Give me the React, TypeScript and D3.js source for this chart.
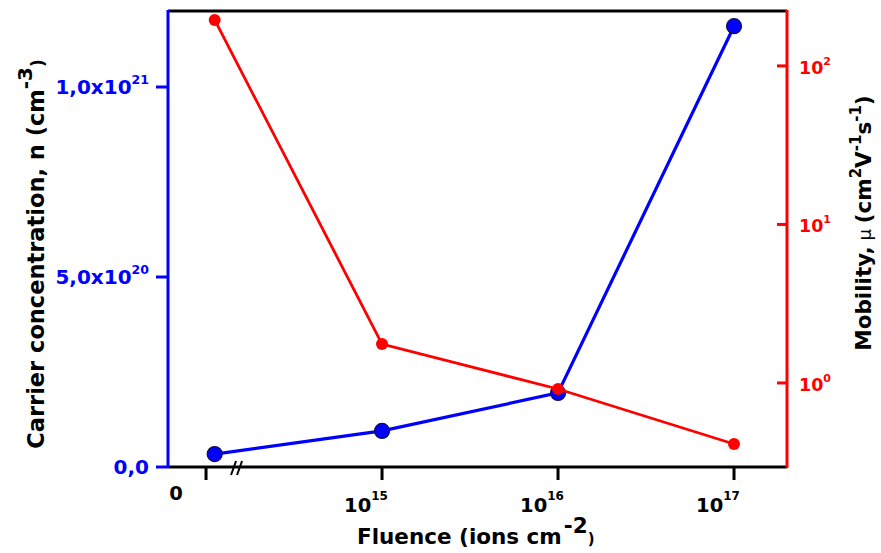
import React from 'react';
import * as d3 from 'd3';

// Data (first entry = unimplanted sample, shown at "0" left of the axis break)
const fluence = [1.12e14, 1e15, 1e16, 1e17];
const carrierConc = [3.4e19, 9.5e19, 1.95e20, 1.16e21];
const mobility = [195, 1.76, 0.916, 0.412];

const leftTicks = [0, 5e20, 1e21];
const leftTickBase = ['0,0', '5,0x10', '1,0x10'];
const leftTickExp = ['', '20', '21'];

const bottomTicks = [1e14, 1e15, 1e16, 1e17];
const bottomTickExp = ['', '15', '16', '17'];

const rightTicks = [1, 10, 100];
const rightTickExp = ['0', '1', '2'];

const BLUE = '#0000FF';
const RED = '#FF0000';
const FONT = '"DejaVu Sans", Verdana, sans-serif';

export default function App() {
  const W = 881, H = 553;
  const L = 168, R = 787, T = 11, B = 467;

  const x = d3.scaleLog().domain([6.08e13, 2.0e17]).range([L, R]);
  const yL = d3.scaleLinear().domain([0, 1.2e21]).range([B, T]);
  const yR = d3.scaleLog().domain([0.295, 222]).range([B, T]);

  const blueLine = d3.line<number>().x((_, i) => x(fluence[i])).y((d) => yL(d))(carrierConc) || '';
  const redLine = d3.line<number>().x((_, i) => x(fluence[i])).y((d) => yR(d))(mobility) || '';

  const breakX = x(1e14) + 32;

  return (
    <svg width={W} height={H} style={{ position: 'absolute', left: 0, top: 0, background: '#fff' }} fontFamily={FONT}>
      <rect x={0} y={0} width={W} height={H} fill="#fff" />

      {/* frame */}
      <line x1={L} x2={R} y1={T} y2={T} stroke="#000" strokeWidth={3} />
      <line x1={L} x2={R} y1={B} y2={B} stroke="#000" strokeWidth={3} />
      <line x1={L} x2={L} y1={T - 1} y2={B + 1} stroke={BLUE} strokeWidth={3} />
      <line x1={R} x2={R} y1={T - 1} y2={B + 1} stroke={RED} strokeWidth={3} />

      {/* left ticks */}
      {leftTicks.map((t, i) => (
        <g key={'lt' + i}>
          <line x1={L - 12} x2={L} y1={yL(t)} y2={yL(t)} stroke={BLUE} strokeWidth={3} />
          <text x={L - 19} y={yL(t) + 7} textAnchor="end" fill={BLUE} fontWeight="bold" fontSize={20}>
            {leftTickBase[i]}
            {leftTickExp[i] && (
              <tspan dy={-10} fontSize={12.5}>{leftTickExp[i]}</tspan>
            )}
          </text>
        </g>
      ))}

      {/* right ticks */}
      {rightTicks.map((t, i) => (
        <g key={'rt' + i}>
          <line x1={R - 10} x2={R} y1={yR(t)} y2={yR(t)} stroke={RED} strokeWidth={3} />
          <text x={R + 12} y={yR(t) + 8} textAnchor="start" fill={RED} fontWeight="bold" fontSize={17.5}>
            10
            <tspan dy={-9} fontSize={11}>{rightTickExp[i]}</tspan>
          </text>
        </g>
      ))}

      {/* bottom ticks */}
      {bottomTicks.map((t, i) => (
        <g key={'bt' + i}>
          <line x1={x(t)} x2={x(t)} y1={B} y2={B + 13} stroke="#000" strokeWidth={3} />
          {bottomTickExp[i] && (
            <text x={x(t) - 16} y={B + 45} textAnchor="middle" fill="#000" fontWeight="bold" fontSize={19.5}>
              10
              <tspan dy={-12} fontSize={12}>{bottomTickExp[i]}</tspan>
            </text>
          )}
        </g>
      ))}
      <text x={L + 8} y={B + 33} textAnchor="middle" fill="#000" fontWeight="bold" fontSize={19.5}>0</text>

      {/* axis break */}
      <line x1={breakX - 7} x2={breakX - 2} y1={B + 8} y2={B - 6} stroke="#000" strokeWidth={2} />
      <line x1={breakX - 1} x2={breakX + 4} y1={B + 8} y2={B - 6} stroke="#000" strokeWidth={2} />

      {/* series */}
      <path d={blueLine} fill="none" stroke={BLUE} strokeWidth={3.2} />
      {carrierConc.map((d, i) => (
        <circle key={'bc' + i} cx={x(fluence[i])} cy={yL(d)} r={7.5} fill={BLUE} stroke="#10104a" strokeWidth={1.2} />
      ))}
      <path d={redLine} fill="none" stroke={RED} strokeWidth={2.8} />
      {mobility.map((d, i) => (
        <circle key={'rc' + i} cx={x(fluence[i])} cy={yR(d)} r={6} fill={RED} />
      ))}

      {/* axis titles */}
      <text transform="translate(44,254) rotate(-90)" textAnchor="middle" fill="#000" fontWeight="bold" fontSize={22.5}>
        Carrier concentration, n (cm
        <tspan dy={-12} fontSize={20}>-3</tspan>
        <tspan dy={12} fontSize={17}>)</tspan>
      </text>

      <text transform="translate(871,223) rotate(-90)" textAnchor="middle" fill="#000" fontWeight="bold" fontSize={21.5}>
        Mobility,
        <tspan fontWeight="normal" fontSize={18}> μ </tspan>
        (cm
        <tspan dy={-10} fontSize={15}>2</tspan>
        <tspan dy={10}>V</tspan>
        <tspan dy={-10} fontSize={15}>-1</tspan>
        <tspan dy={10}>s</tspan>
        <tspan dy={-10} fontSize={15}>-1</tspan>
        <tspan dy={10}>)</tspan>
      </text>

      <text x={357} y={544} textAnchor="start" fill="#000" fontWeight="bold" fontSize={21.5}>
        Fluence (ions cm
        <tspan dx={2} dy={-11} fontSize={21.5}>-2</tspan>
        <tspan dy={11} fontSize={15}>)</tspan>
      </text>
    </svg>
  );
}
